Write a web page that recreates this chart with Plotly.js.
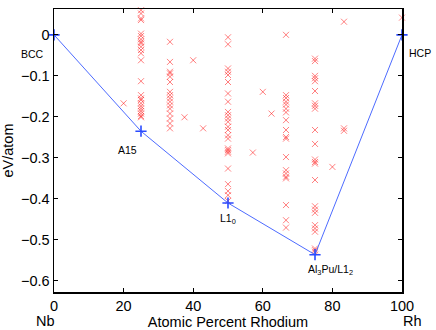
<!DOCTYPE html>
<html>
<head>
<meta charset="utf-8">
<script src="https://cdn.plot.ly/plotly-3.0.1.min.js"></script>
<style>
  html, body { margin: 0; padding: 0; background: #fff; }
  #chart { width: 436px; height: 330px; }
</style>
</head>
<body>
<div id="chart"></div>
<script>
// compositions (atomic % Rh) with computed structure energies (eV/atom)
const comps = [20, 25, 33.33, 37.5, 40, 42.86, 50, 57.14, 60, 62.5, 66.67, 75, 80, 83.33, 100];
const energies = [
  [-0.167],
  [0.060, 0.052, 0.040, 0.036, 0.003, -0.003, -0.011, -0.017, -0.021, -0.029, -0.037, -0.045, -0.062,
   -0.113, -0.147, -0.155, -0.159, -0.167, -0.174, -0.180, -0.186, -0.192, -0.198, -0.201],
  [-0.017, -0.066, -0.090, -0.094, -0.102, -0.115, -0.139, -0.147, -0.155, -0.163, -0.172, -0.180,
   -0.192, -0.204, -0.216, -0.228],
  [-0.201],
  [-0.062],
  [-0.228],
  [-0.006, -0.023, -0.082, -0.090, -0.098, -0.115, -0.143, -0.163, -0.188, -0.196, -0.204, -0.212,
   -0.224, -0.232, -0.245, -0.253, -0.277, -0.281, -0.285, -0.289, -0.326, -0.364, -0.381, -0.391, -0.405],
  [-0.287],
  [-0.139],
  [-0.192],
  [0.000, -0.147, -0.154, -0.163, -0.170, -0.180, -0.189, -0.208, -0.232, -0.249, -0.253, -0.298,
   -0.330, -0.338, -0.346, -0.350, -0.415, -0.452, -0.470],
  [-0.058, -0.064, -0.100, -0.106, -0.113, -0.137, -0.167, -0.173, -0.180, -0.232, -0.266, -0.304,
   -0.310, -0.314, -0.354, -0.418, -0.426, -0.434, -0.464, -0.472, -0.480, -0.521, -0.525, -0.529],
  [-0.322],
  [0.032, -0.228, -0.234],
  [0.042]
];

// convex hull
const hullX = [0, 25, 50, 75, 100];
const hullY = [0, -0.235, -0.41, -0.536, 0];
const hullNames = ['BCC', 'A15', 'L1<sub>0</sub>', 'Al<sub>3</sub>Pu/L1<sub>2</sub>', 'HCP'];
// label placement in paper coordinates
const labelX = [-0.062, 0.212, 0.5, 0.795, 1.051];
const labelY = [0.841, 0.502, 0.258, 0.078, 0.843];

const endNames = ['Nb', 'Rh'];
const endX = [-0.023, 1.029];

const yTicks = [-0.6, -0.5, -0.4, -0.3, -0.2, -0.1, 0];
const xTicks = [0, 20, 40, 60, 80, 100];

const ptsX = [];
const ptsY = [];
comps.forEach((c, i) => {
  energies[i].forEach((e) => {
    ptsX.push(c);
    ptsY.push(e);
  });
});

const font = 'Liberation Sans, Arial, Helvetica, sans-serif';

const data = [
  {
    x: ptsX,
    y: ptsY,
    type: 'scatter',
    mode: 'markers',
    marker: { symbol: 'x-thin', size: 6, line: { color: 'rgba(255,0,0,0.5)', width: 1 } },
    cliponaxis: false,
    hoverinfo: 'skip'
  },
  {
    x: hullX,
    y: hullY,
    type: 'scatter',
    mode: 'lines+markers',
    line: { color: '#4d6bff', width: 1 },
    marker: { symbol: 'cross-thin', size: 8, line: { color: '#2a4bff', width: 1.6 } },
    cliponaxis: false
  }
];

const annotations = hullNames.map((name, i) => ({
  x: labelX[i], y: labelY[i], xref: 'paper', yref: 'paper',
  xanchor: 'center', yanchor: 'middle',
  text: name, showarrow: false,
  font: { family: font, size: 10.5, color: '#000' }
}));
endNames.forEach((name, i) => {
  annotations.push({
    x: endX[i], y: -0.102, xref: 'paper', yref: 'paper',
    xanchor: 'center', yanchor: 'middle',
    text: name, showarrow: false,
    font: { family: font, size: 14.5, color: '#000' }
  });
});

const layout = {
  width: 436,
  height: 330,
  margin: { l: 54, r: 34, t: 9, b: 38 },
  paper_bgcolor: '#fff',
  plot_bgcolor: '#fff',
  showlegend: false,
  font: { family: font, size: 14, color: '#000' },
  xaxis: {
    range: [0, 100],
    tickvals: xTicks,
    ticks: 'inside',
    ticklen: 4,
    tickwidth: 1,
    tickcolor: '#000',
    showline: true,
    linecolor: '#000',
    linewidth: 1.5,
    mirror: 'ticks',
    showgrid: false,
    zeroline: false,
    automargin: false,
    tickfont: { family: font, size: 14.5 },
    title: { text: 'Atomic Percent Rhodium', font: { family: font, size: 14.5 }, standoff: 4 }
  },
  yaxis: {
    range: [-0.627, 0.063],
    tickvals: yTicks,
    ticktext: yTicks.map((v) => (v === 0 ? '0' : '\u2212' + Math.abs(v).toFixed(1))),
    ticks: 'inside',
    ticklen: 4,
    tickwidth: 1,
    tickcolor: '#000',
    showline: true,
    linecolor: '#000',
    linewidth: 1.5,
    mirror: 'ticks',
    showgrid: false,
    zeroline: false,
    automargin: false,
    ticklabelstandoff: 0,
    tickfont: { family: font, size: 14.5 },
    title: { text: 'eV/atom', font: { family: font, size: 14.5 }, standoff: 4 }
  },
  annotations: annotations
};

Plotly.newPlot('chart', data, layout, { staticPlot: true });
</script>
</body>
</html>
